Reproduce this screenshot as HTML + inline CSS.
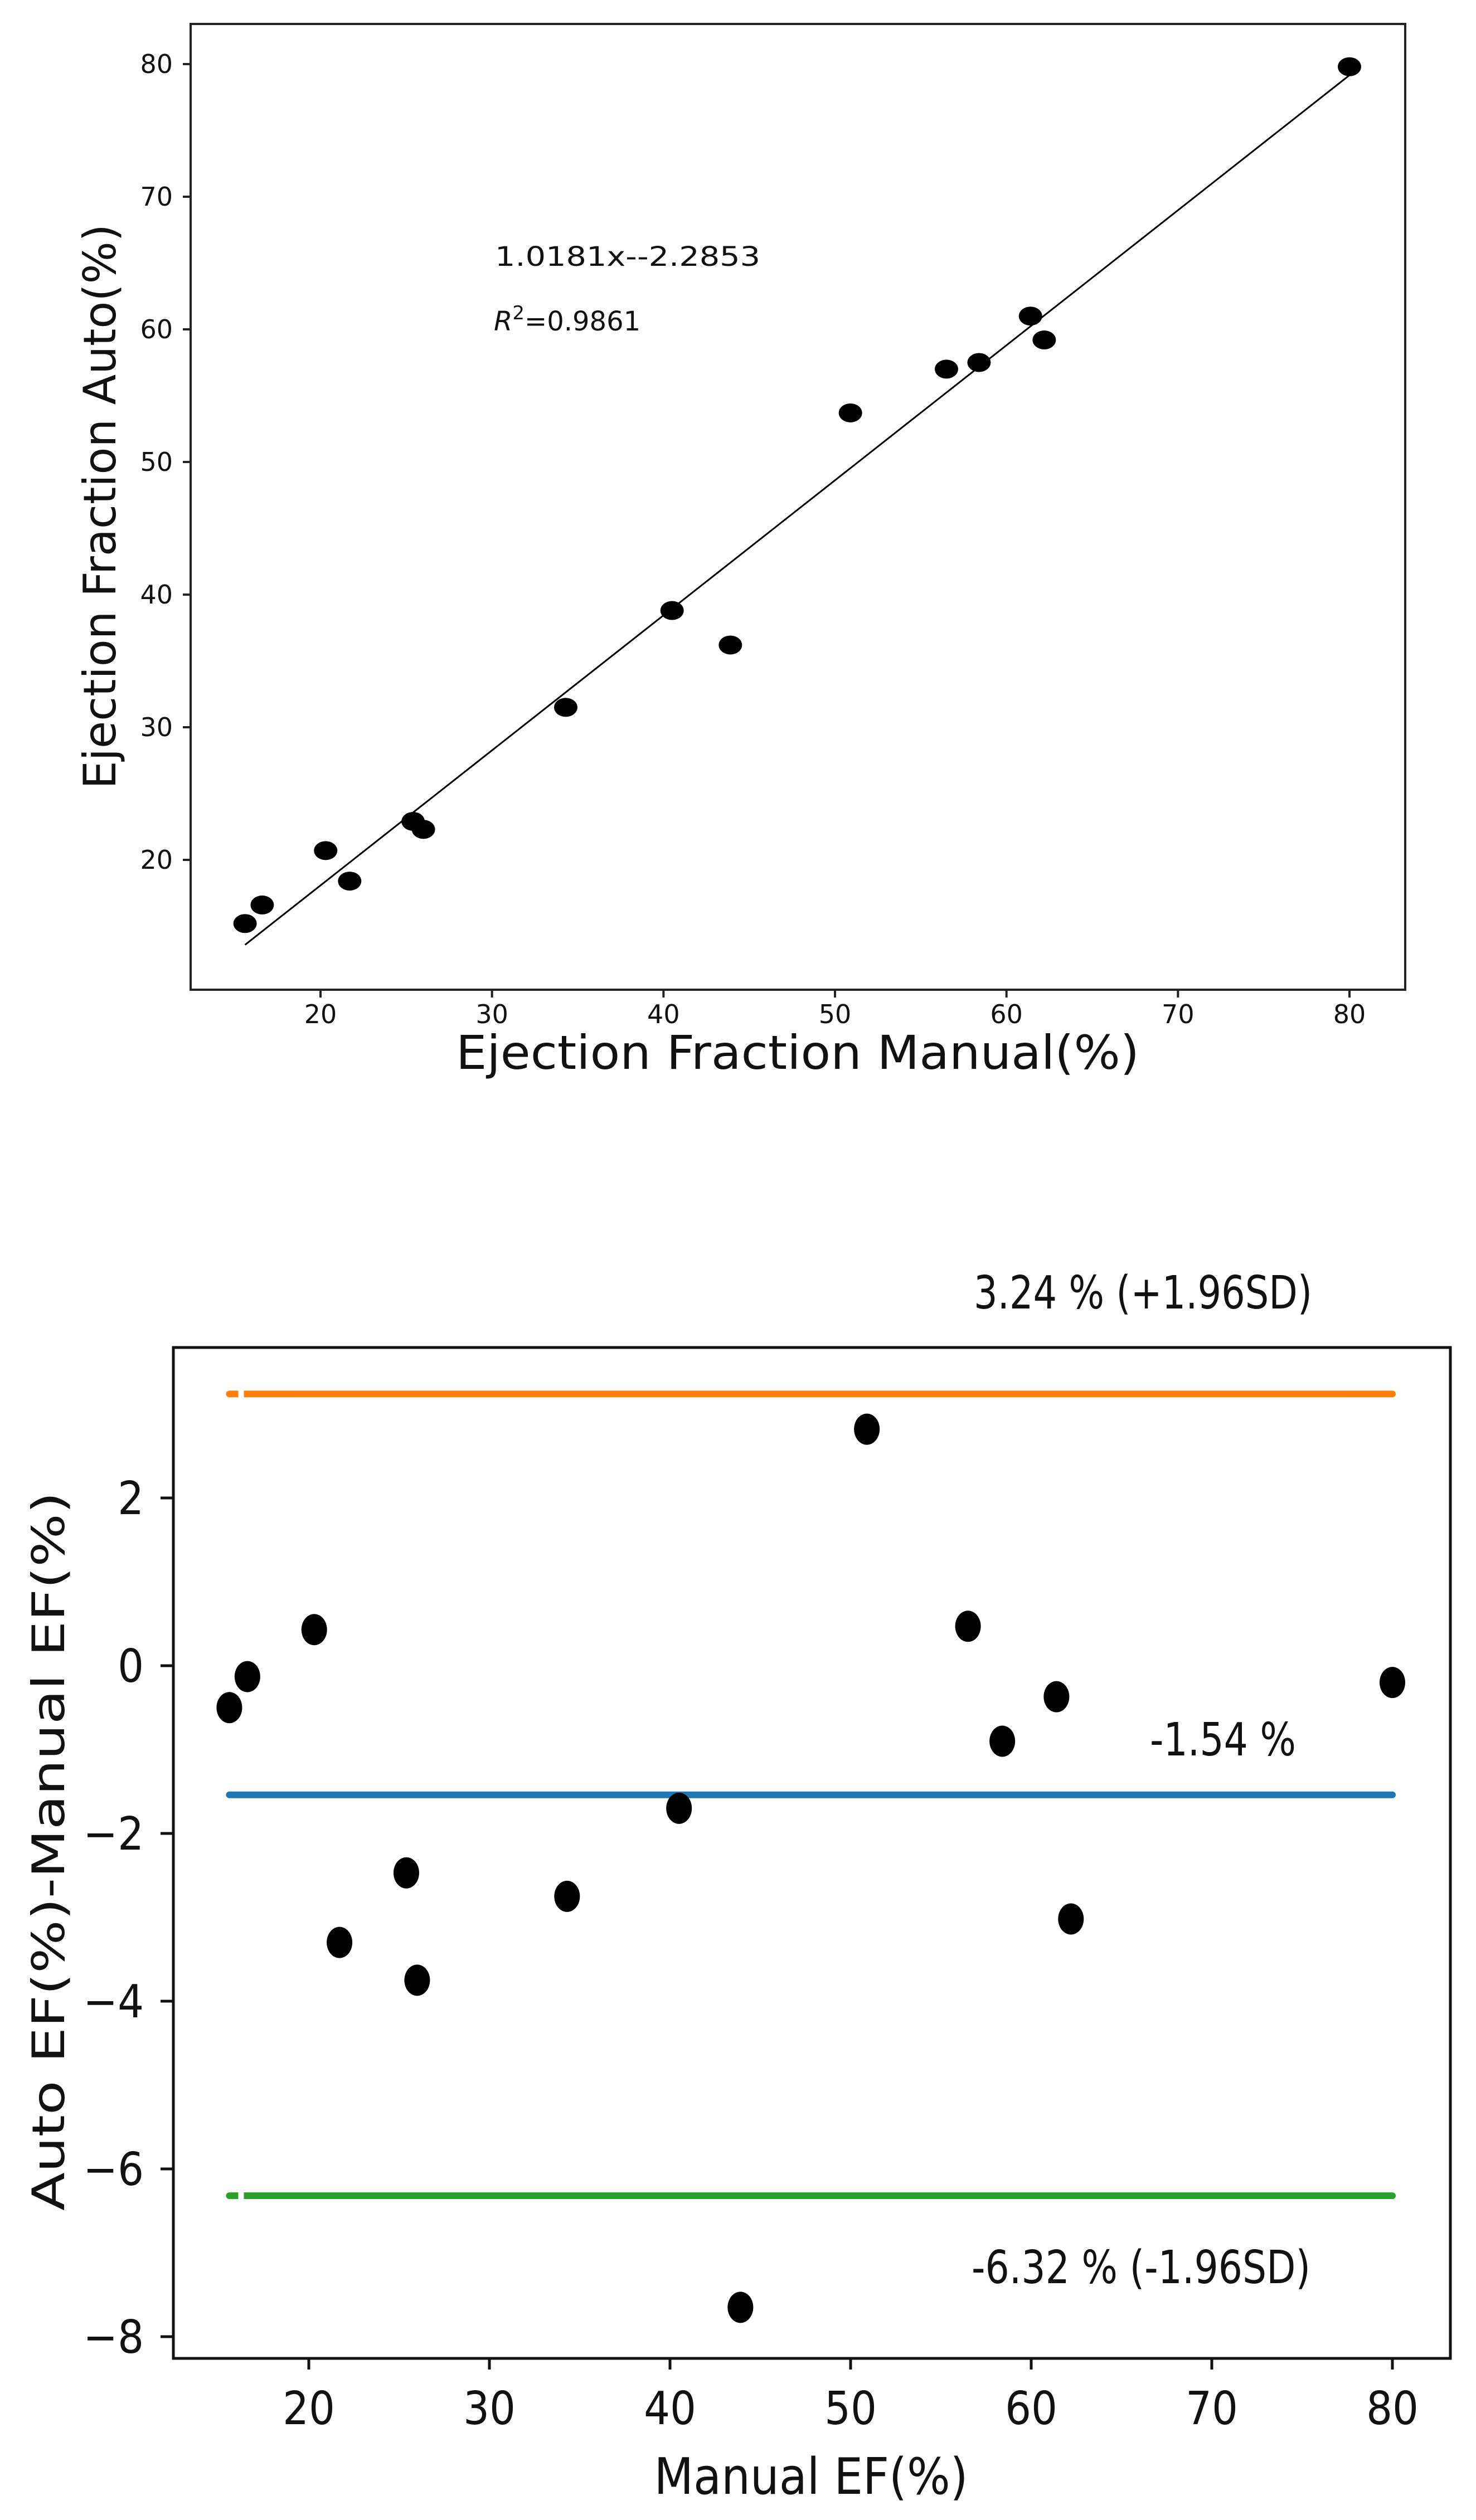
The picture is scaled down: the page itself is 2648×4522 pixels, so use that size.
<!DOCTYPE html>
<html><head><meta charset="utf-8"><style>
html,body{margin:0;padding:0;background:#fff;}
svg{display:block;}
</style></head><body>
<svg id="fig" xmlns="http://www.w3.org/2000/svg" width="2648" height="4522" viewBox="0 0 2648 4522">
<rect width="2648" height="4522" fill="#fff"/>
<g id="top"></g>
<g id="bot"></g>
</svg>
<script>
const manualEF = [15.6,16.6,20.3,21.7,25.4,26.0,34.3,40.5,43.9,50.9,56.5,58.4,61.4,62.2,80.0];
const autoEF = [15.2,16.6,20.7,18.4,22.9,22.3,31.5,38.8,36.2,53.7,57.0,57.5,61.0,59.2,79.8];
const diffEF = [-0.5,-0.13,0.43,-3.3,-2.47,-3.75,-2.75,-1.7,-7.65,2.82,0.47,-0.9,-0.37,-3.02,-0.2];
const topXTicks = [20,30,40,50,60,70,80];
const topYTicks = [20,30,40,50,60,70,80];
const botXTicks = [20,30,40,50,60,70,80];
const botYTicks = [2,0,-2,-4,-6,-8];
const slope = 1.0181, intercept = -2.2853;
const meanDiff = -1.54, upperLoA = 3.24, lowerLoA = -6.32;

const NS = "http://www.w3.org/2000/svg";
function mk(parent, tag, attrs, text){
  const e = document.createElementNS(NS, tag);
  for (const k in attrs) e.setAttribute(k, attrs[k]);
  if (text !== undefined) e.textContent = text;
  parent.appendChild(e);
  return e;
}
const DJ = '"DejaVu Sans", "Liberation Sans", sans-serif';
const DJC = '"DejaVu Sans Condensed", "DejaVu Sans", "Liberation Sans", sans-serif';

// ---------- top chart ----------
const T = document.getElementById('top');
const tx = v => 575 + (v - 20) * (2421 - 575) / 60;
const ty = v => 1543 - (v - 20) * (1543 - 115) / 60;
{
  const fl = mk(T, 'line', {x1: tx(manualEF[0]), y1: ty(slope*manualEF[0]+intercept), x2: tx(80), y2: ty(slope*80+intercept), stroke: '#000', 'stroke-width': 3});
  
  
  manualEF.forEach((m, i) => {
    const p = mk(T, 'ellipse', {cx: tx(m), cy: ty(autoEF[i]), rx: 21, ry: 17, fill: '#000'});
    
    
  });
  const fr = mk(T, 'rect', {x: 342, y: 43, width: 2179, height: 1733, fill: 'none', stroke: '#222', 'stroke-width': 4});
  
  
  topXTicks.forEach(v => {
    mk(T, 'line', {x1: tx(v), y1: 1776, x2: tx(v), y2: 1790, stroke: '#222', 'stroke-width': 4});
    const t = mk(T, 'text', {x: tx(v), y: 1836, 'font-family': DJ, 'font-size': 46, 'text-anchor': 'middle', fill: '#111'}, String(v));
    
    
  });
  topYTicks.forEach(v => {
    mk(T, 'line', {x1: 328, y1: ty(v), x2: 342, y2: ty(v), stroke: '#222', 'stroke-width': 4});
    const t = mk(T, 'text', {x: 310, y: ty(v) + 16, 'font-family': DJ, 'font-size': 46, 'text-anchor': 'end', fill: '#111'}, String(v));
    
    
  });
}
</script>
<script>
(function(){
  const T = document.getElementById('top');
  const eq = mk(T, 'text', {x: 888, y: 477, 'font-family': DJ, 'font-size': 48, fill: '#111', textLength: 476, lengthAdjust: 'spacingAndGlyphs'}, '1.0181x--2.2853');
  
  
  const r2 = mk(T, 'text', {x: 886, y: 593, 'font-family': DJ, 'font-size': 48, fill: '#111'});
  
  
  mk(r2, 'tspan', {'font-style': 'italic'}, 'R');
  mk(r2, 'tspan', {dy: -20, 'font-size': 34}, '2');
  mk(r2, 'tspan', {dy: 20}, '=0.9861');
  const xt = mk(T, 'text', {x: 1431, y: 1918, 'font-family': DJ, 'font-size': 84, 'text-anchor': 'middle', fill: '#111', textLength: 1226, lengthAdjust: 'spacingAndGlyphs'}, 'Ejection Fraction Manual(%)');
  
  
  const yt = mk(T, 'text', {x: 0, y: 0, 'font-family': DJ, 'font-size': 80, 'text-anchor': 'middle', fill: '#111', transform: 'translate(207,909) rotate(-90)'}, 'Ejection Fraction Auto(%)');
  
  

  // ---------- bottom chart ----------
  const B = document.getElementById('bot');
  const bx = v => 554 + (v - 20) * (2498 - 554) / 60;
  const by = v => 2989 - v * 150.5;
  const x0 = manualEF[0], x1 = 80;
  const lines = [[upperLoA, '#ff7f0e', 'upper-loa-line'], [meanDiff, '#1f77b4', 'mean-diff-line'], [lowerLoA, '#2ca02c', 'lower-loa-line']];
  lines.forEach(([v, c, n]) => {
    const l = mk(B, 'line', {x1: bx(x0), y1: by(v), x2: bx(x1), y2: by(v), stroke: c, 'stroke-width': 12, 'stroke-linecap': 'round'});
    
    
  });
  [[upperLoA, '#ff7f0e'], [lowerLoA, '#2ca02c']].forEach(([v, c]) => {
    mk(B, 'rect', {x: bx(x0) + 16, y: by(v) - 8, width: 10, height: 16, fill: '#fff'});
  });
  manualEF.forEach((m, i) => {
    const p = mk(B, 'ellipse', {cx: bx(m), cy: by(diffEF[i]), rx: 23, ry: 28, fill: '#000'});
    
    
  });
  const fr = mk(B, 'rect', {x: 311, y: 2418, width: 2291, height: 1814, fill: 'none', stroke: '#111', 'stroke-width': 5});
  
  
  botXTicks.forEach(v => {
    mk(B, 'line', {x1: bx(v), y1: 4232, x2: bx(v), y2: 4252, stroke: '#111', 'stroke-width': 5});
    const t = mk(B, 'text', {x: bx(v), y: 4350, 'font-family': DJC, 'font-size': 82, 'text-anchor': 'middle', fill: '#111'}, String(v));
    
    
  });
  botYTicks.forEach(v => {
    mk(B, 'line', {x1: 288, y1: by(v), x2: 311, y2: by(v), stroke: '#111', 'stroke-width': 5});
    const t = mk(B, 'text', {x: 258, y: by(v) + 29, 'font-family': DJC, 'font-size': 82, 'text-anchor': 'end', fill: '#111'}, v < 0 ? '\u2212' + (-v) : String(v));
    
    
  });
  const a1 = mk(B, 'text', {x: 1747, y: 2348, 'font-family': DJC, 'font-size': 82, fill: '#111', textLength: 607, lengthAdjust: 'spacingAndGlyphs'}, upperLoA.toFixed(2) + ' % (+1.96SD)');
  
  
  const a2 = mk(B, 'text', {x: 2063, y: 3150, 'font-family': DJC, 'font-size': 82, fill: '#111', textLength: 262, lengthAdjust: 'spacingAndGlyphs'}, meanDiff.toFixed(2) + ' %');
  
  
  const a3 = mk(B, 'text', {x: 1743, y: 4097, 'font-family': DJC, 'font-size': 82, fill: '#111', textLength: 608, lengthAdjust: 'spacingAndGlyphs'}, lowerLoA.toFixed(2) + ' % (-1.96SD)');
  
  
  const bxT = mk(B, 'text', {x: 1455, y: 4475, 'font-family': DJC, 'font-size': 90, 'text-anchor': 'middle', fill: '#111', textLength: 563, lengthAdjust: 'spacingAndGlyphs'}, 'Manual EF(%)');
  
  
  const byT = mk(B, 'text', {x: 0, y: 0, 'font-family': DJ, 'font-size': 80, 'text-anchor': 'middle', fill: '#111', transform: 'translate(115,3322) rotate(-90)', textLength: 1290, lengthAdjust: 'spacingAndGlyphs'}, 'Auto EF(%)-Manual EF(%)');
  
  
})();
</script>
</body></html>
